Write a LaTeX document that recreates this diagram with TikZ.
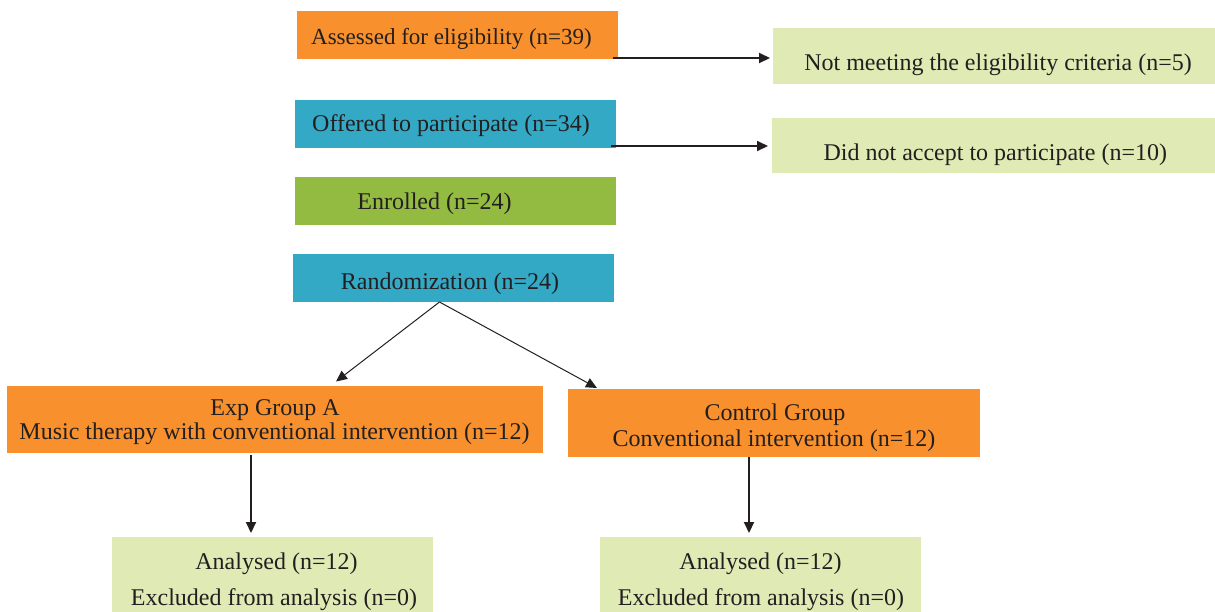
\documentclass[tikz,border=0pt]{standalone}
\usepackage{fontspec}
\setmainfont{Liberation Serif}
\usetikzlibrary{arrows.meta}
\definecolor{orangebox}{HTML}{F7902D}
\definecolor{tealbox}{HTML}{33A9C6}
\definecolor{greenbox}{HTML}{93BA41}
\definecolor{palebox}{HTML}{DFEAB4}
\definecolor{ink}{HTML}{231F20}
\begin{document}
\begin{tikzpicture}[x=1pt,y=-1pt,
  box/.style={inner sep=0pt, outer sep=0pt, draw=none},
  txt/.style={inner sep=0pt, anchor=base, text=ink, font=\fontsize{24}{26}\selectfont},
  arr/.style={draw=ink, line width=2pt, -{Triangle[length=11pt,width=10pt]}},
  darr/.style={draw=ink, line width=1pt, -{Triangle[length=11pt,width=10pt]}}]
\useasboundingbox (0,0) rectangle (1215,611);
% boxes
\node[box, fill=orangebox, minimum width=321pt, minimum height=48pt] (assess) at (457.5,35) {};
\node[box, fill=palebox, minimum width=442pt, minimum height=56pt] (notmeet) at (994,56) {};
\node[box, fill=tealbox, minimum width=321pt, minimum height=48pt] (offered) at (455.5,124) {};
\node[box, fill=palebox, minimum width=443pt, minimum height=55pt] (notacc) at (993.5,145.5) {};
\node[box, fill=greenbox, minimum width=321pt, minimum height=48pt] (enrolled) at (455.5,201) {};
\node[box, fill=tealbox, minimum width=321pt, minimum height=48pt] (random) at (453.5,278) {};
\node[box, fill=orangebox, minimum width=536pt, minimum height=67pt] (expA) at (275,419) {};
\node[box, fill=orangebox, minimum width=412pt, minimum height=68pt] (control) at (774,423) {};
\node[box, fill=palebox, minimum width=321pt, minimum height=80pt] (analA) at (272.5,577) {};
\node[box, fill=palebox, minimum width=321pt, minimum height=80pt] (analC) at (760.5,577) {};
% texts
\node[txt, font=\fontsize{23}{26}\selectfont] (tassess) at (451.5,44.3) {Assessed for eligibility (n=39)};
\node[txt] (tnotmeet) at (998,70) {Not meeting the eligibility criteria (n=5)};
\node[txt] (toffered) at (451,131.7) {Offered to participate (n=34)};
\node[txt] (tnotacc) at (995.3,160) {Did not accept to participate (n=10)};
\node[txt] (tenrolled) at (434.5,209) {Enrolled (n=24)};
\node[txt] (trandom) at (450,289) {Randomization (n=24)};
\node[txt] (texpA1) at (275,415) {Exp Group A};
\node[txt] (texpA2) at (274.5,439.3) {Music therapy with conventional intervention (n=12)};
\node[txt] (tcontrol1) at (775,420.7) {Control Group};
\node[txt] (tcontrol2) at (774,446.7) {Conventional intervention (n=12)};
\node[txt] (tanalA1) at (276.5,569.3) {Analysed (n=12)};
\node[txt] (tanalA2) at (274,605) {Excluded from analysis (n=0)};
\node[txt] (tanalC1) at (760.5,569.3) {Analysed (n=12)};
\node[txt] (tanalC2) at (761,605) {Excluded from analysis (n=0)};
% connectors
\coordinate (a1) at ([xshift=-5pt,yshift=1pt]assess.south east);
\draw[arr, shorten >=3pt] (a1) -- (a1 -| notmeet.west);
\coordinate (a2) at ([xshift=-5pt,yshift=2pt]offered.south east);
\draw[arr, shorten >=4pt] (a2) -- (a2 -| notacc.west);
\coordinate (rs) at ([xshift=-14pt]random.south);
\draw[darr] (rs) -- ([xshift=61pt,yshift=4pt]expA.north);
\draw[darr] (rs) -- ([xshift=-177pt,yshift=1pt]control.north);
\coordinate (e1) at ([xshift=-24pt,yshift=-2pt]expA.south);
\draw[arr, shorten >=4pt] (e1) -- (e1 |- analA.north);
\coordinate (c1) at ([xshift=-25pt]control.south);
\draw[arr, shorten >=4pt] (c1) -- (c1 |- analC.north);
\end{tikzpicture}
\end{document}
